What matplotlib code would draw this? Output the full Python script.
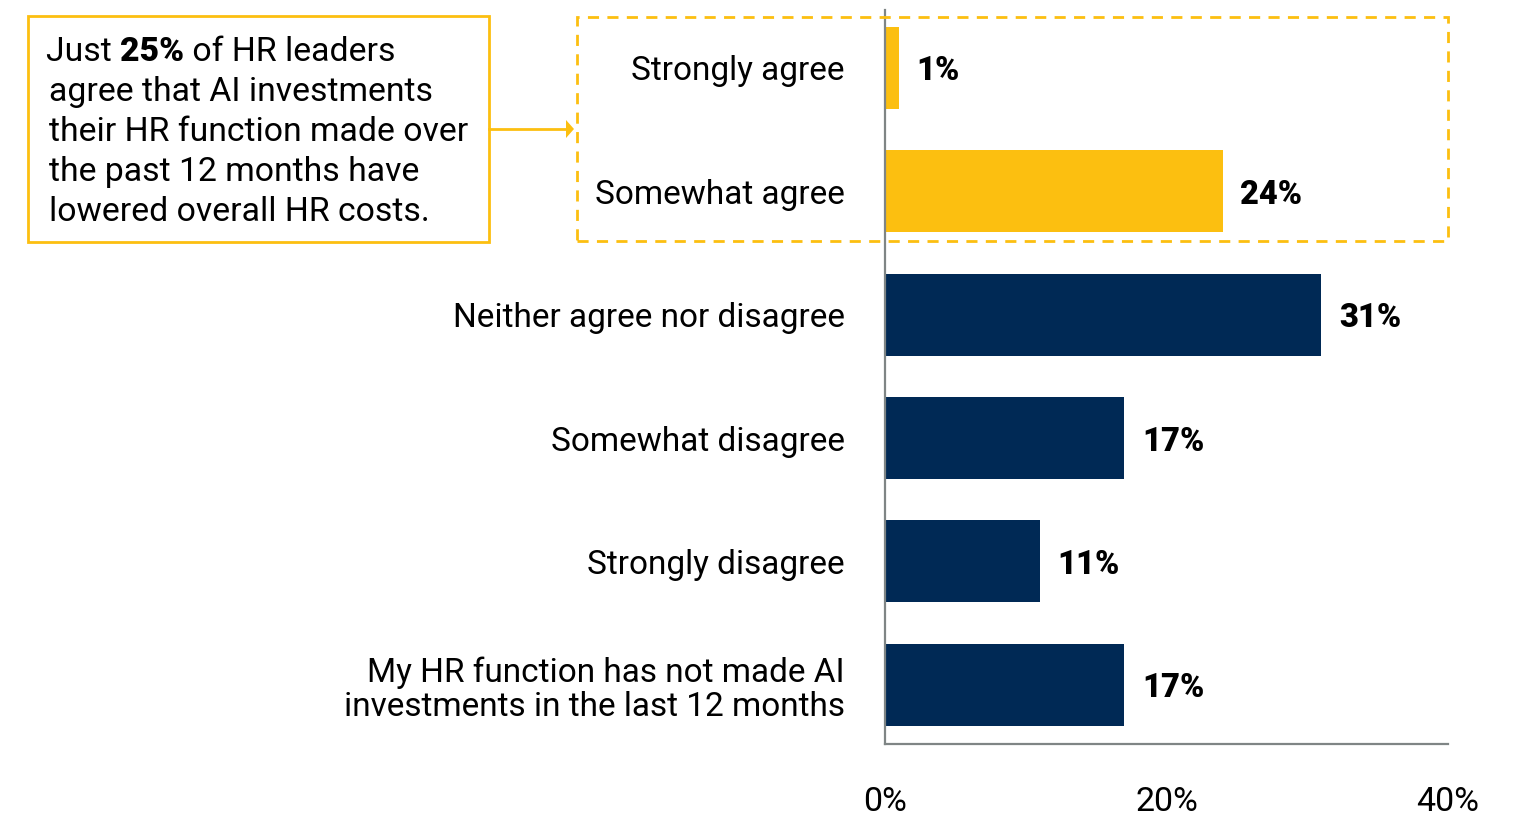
import matplotlib.pyplot as plt
from matplotlib.patches import Rectangle

plt.rcParams['font.family'] = ['Roboto', 'DejaVu Sans']

categories = ['Strongly agree', 'Somewhat agree', 'Neither agree nor disagree',
              'Somewhat disagree', 'Strongly disagree',
              'My HR function has not made AI\ninvestments in the last 12 months']
values = [1, 24, 31, 17, 11, 17]
highlight = [True, True, False, False, False, False]
xticks = [0, 20, 40]

gold = '#FCBF10'
navy = '#002955'
axis_gray = '#7f8585'

fig = plt.figure(figsize=(15.2, 8.15), dpi=100)
ax = fig.add_axes([885 / 1520, 1 - 744 / 815, (1448 - 885) / 1520, (744 - 10) / 815])

colors = [gold if h else navy for h in highlight]
ypos = list(range(len(categories)))
ax.barh(ypos, values, height=0.665, color=colors)

for y, v in zip(ypos, values):
    ax.text(v + 1.25, y, f'{v}%', va='center_baseline', ha='left', fontsize=23.5,
            fontweight='black', color='black')

ax.set_xlim(0, 40)
ax.set_ylim(5.48, -0.47)
ax.set_yticks(ypos)
ax.set_yticklabels(categories, fontsize=24, linespacing=1.1)
ax.set_xticks(xticks)
ax.set_xticklabels([f'{t}%' for t in xticks], fontsize=24.5)
ax.tick_params(axis='y', length=0, pad=29)
ax.tick_params(axis='x', length=0, pad=30)
for lbl in ax.get_yticklabels():
    lbl.set_horizontalalignment('right')

for s in ['top', 'right']:
    ax.spines[s].set_visible(False)
for s in ['left', 'bottom']:
    ax.spines[s].set_color(axis_gray)
    ax.spines[s].set_linewidth(1.6)

# dashed frame around the "agree" group
fig.patches.append(Rectangle((577 / 1520, 1 - 241 / 815), (1448 - 577) / 1520,
                             (241 - 17) / 815, transform=fig.transFigure,
                             fill=False, edgecolor=gold, lw=2, ls=(0, (4, 3))))

# callout box
fig.patches.append(Rectangle((28 / 1520, 1 - 242 / 815), (489 - 28) / 1520,
                             (242 - 16) / 815, transform=fig.transFigure,
                             fill=False, edgecolor=gold, lw=2))
fig.add_artist(plt.Line2D([489 / 1520, 566 / 1520], [1 - 129 / 815] * 2,
                          transform=fig.transFigure, color=gold, lw=2))
fig.add_artist(plt.Polygon([[566 / 1520, 1 - 120 / 815], [574 / 1520, 1 - 129 / 815],
                            [566 / 1520, 1 - 138 / 815]], closed=True,
                           transform=fig.transFigure, color=gold, lw=0))

fs = 24.3
x0 = 46 / 1520
base0 = 1 - 61 / 815
step = 40 / 815
renderer = fig.canvas.get_renderer()
pieces = [('Just ', 'normal'), ('25%', 'black'), (' of HR leaders', 'normal')]
x = x0
for txt, w in pieces:
    t = fig.text(x, base0, txt, fontsize=fs, fontweight=w, va='baseline', ha='left')
    bb = t.get_window_extent(renderer).transformed(fig.transFigure.inverted())
    x = bb.x1
rest = ['agree that AI investments', 'their HR function made over',
        'the past 12 months have', 'lowered overall HR costs.']
for i, line in enumerate(rest, start=1):
    fig.text(x0 + 3 / 1520, base0 - i * step, line, fontsize=fs, va='baseline', ha='left')

fig.savefig('out.png', dpi=100)
